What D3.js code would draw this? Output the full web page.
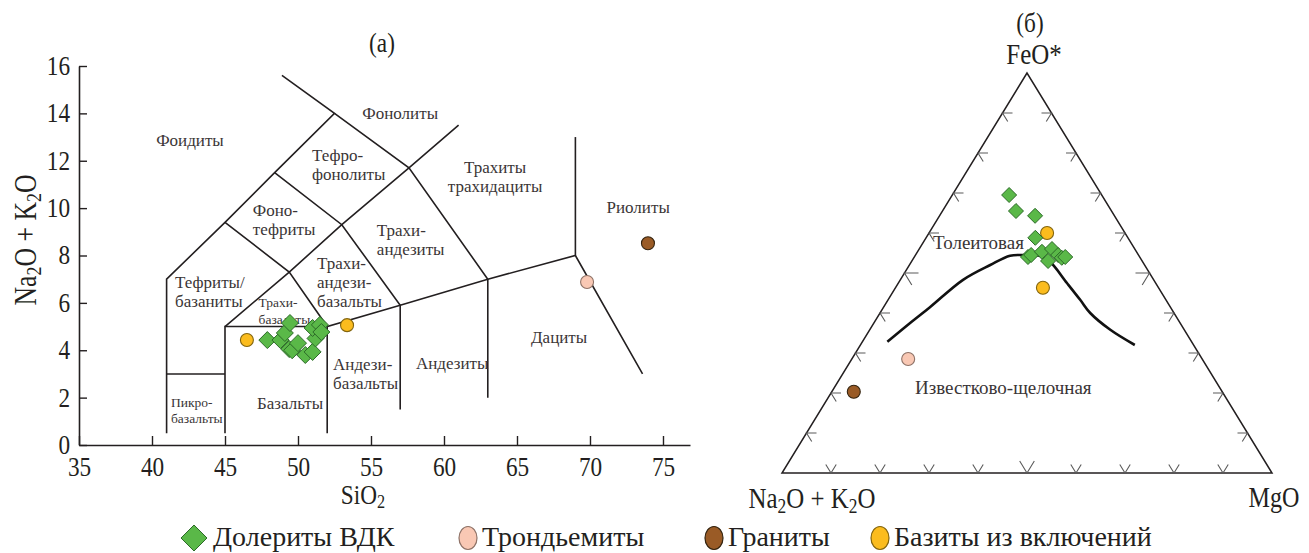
<!DOCTYPE html>
<html><head><meta charset="utf-8">
<script src="https://cdn.jsdelivr.net/npm/d3@7"></script>
<style>body{margin:0;background:#fff}svg{display:block;font-family:"Liberation Serif","Times New Roman",serif}</style>
</head><body><svg id="c" width="1309" height="553"></svg>
<script>
// ---------- DATA ----------
const xTicks = [35, 40, 45, 50, 55, 60, 65, 70, 75];
const yTicks = [0, 2, 4, 6, 8, 10, 12, 14, 16];
// TAS (SiO2, Na2O+K2O)
const doleriteSiO2 = [47.9, 48.8, 49.1, 49.45, 49.4, 49.6, 50.0, 50.5, 51.0, 51.2, 51.0, 51.5, 51.6];
const doleriteAlk  = [4.43, 4.43, 4.73, 5.15, 4.05, 4.0, 4.3, 3.8, 3.93, 4.5, 4.94, 5.07, 4.77];
const trondSiO2 = [69.8],  trondAlk = [6.88];
const graniteSiO2 = [73.97], graniteAlk = [8.52];
const basiteSiO2 = [46.5, 53.36], basiteAlk = [4.43, 5.06];
// AFM (FeO*, Na2O+K2O, MgO), %
const doleriteF = [69.5, 65.5, 64.3, 58.8, 54.0, 54.5, 55.3, 56.0, 53.0, 54.5, 53.8, 54.0];
const doleriteA = [18.9, 19.5, 16.2, 18.9, 22.8, 21.9, 19.3, 16.9, 19.2, 16.4, 16.0, 15.2];
const doleriteM = [11.6, 15.0, 19.5, 22.3, 23.2, 23.6, 25.4, 27.1, 27.8, 29.1, 30.2, 30.8];
const trondF = [28.5], trondA = [60.0], trondM = [11.5];
const graniteF = [20.3], graniteA = [75.2], graniteM = [4.5];
const basiteF = [60.0, 46.3], basiteA = [15.9, 23.6], basiteM = [24.1, 30.1];
// Irvine–Baragar boundary (F, M), %
const curveF = [32.8, 37.5, 41.5, 48.3, 52.0, 54.3, 54.5, 54.3, 52.8, 47.5, 43.3, 40.0, 35.8, 32.0];
const curveM = [5.1, 7.4, 9.5, 12.8, 16.5, 19.4, 22.3, 25.5, 28.3, 34.4, 39.2, 42.9, 49.1, 56.0];
// TAS boundary polylines
const tasLines = [
  [[41,0.5],[41,7],[45,9.4],[48.4,11.5],[52.5,14],[48.9,15.6]],
  [[41,3],[45,3]],
  [[45,0.5],[45,5],[52,5],[52,0.5]],
  [[45,5],[49.4,7.3],[53,9.3],[57.6,11.7],[61,13.5]],
  [[45,9.4],[49.4,7.3],[52,5],[57,5.9],[63,7],[69,8],[73.6,3.0]],
  [[48.4,11.5],[53,9.3],[57,5.9],[57,1.5]],
  [[52.5,14],[57.6,11.7],[63,7],[63,2]],
  [[69,13],[69,8]]
];
const legendNames = ["Долериты ВДК", "Трондьемиты", "Граниты", "Базиты из включений"];

// ---------- STYLE ----------
const C = {
  dol: {fill:"#5ab848", stroke:"#2c6a28"},
  tro: {fill:"#f9c8b4", stroke:"#8e7267"},
  gra: {fill:"#9a5b26", stroke:"#33230f"},
  bas: {fill:"#fbbc1e", stroke:"#83650f"}
};
const svg = d3.select("#c");
const SX = 0.83;

function squeeze(t, sx) {
  if (sx === 1) return;
  const w = t.node().getComputedTextLength();
  t.attr("textLength", (w*sx).toFixed(2)).attr("lengthAdjust", "spacingAndGlyphs");
}

function addText(g, x, y, parts, size, anchor, opts={}) {
  const hasSub = Array.isArray(parts) && parts.some(p => typeof p !== "string");
  const sx = opts.sx ?? 1;
  const t = g.append("text")
    .attr("transform", `translate(${x},${y})` + (opts.rot ? ` rotate(${opts.rot})` : "") + (hasSub && sx !== 1 ? ` scale(${sx},1)` : ""))
    .attr("text-anchor", anchor)
    .attr("dominant-baseline", "central")
    .style("font-size", size + "px")
    .attr("fill", opts.fill || "#231f20");
  if (typeof parts === "string") parts = [parts];
  let reset = false;
  parts.forEach(p => {
    if (typeof p === "string") {
      const ts = t.append("tspan").text(p);
      if (reset) { ts.attr("dy", -size*0.28); reset = false; }
    } else {
      t.append("tspan").attr("dy", size*0.28).style("font-size", (size*0.7)+"px").text(p.sub);
      reset = true;
    }
  });
  if (!hasSub) squeeze(t, sx);
  return t;
}

// ---------- LEFT: TAS ----------
const x = d3.scaleLinear().domain([35, 76.85]).range([79, 690]);
const y = d3.scaleLinear().domain([0, 16]).range([445, 66]);
const gL = svg.append("g");

const xAxis = gL.append("g").attr("transform", `translate(0,${y(0)})`)
  .call(d3.axisBottom(x).tickValues(xTicks).tickSize(-9).tickSizeOuter(0).tickPadding(11));
const yAxis = gL.append("g").attr("transform", `translate(${x(35)},0)`)
  .call(d3.axisLeft(y).tickValues(yTicks).tickSize(-8).tickSizeOuter(0).tickPadding(9));
[xAxis, yAxis].forEach(a => {
  a.select(".domain").attr("stroke", "#231f20").attr("stroke-width", 1.6);
  a.selectAll(".tick line").attr("stroke", "#231f20").attr("stroke-width", 1.4);
  a.selectAll(".tick text").attr("fill", "#231f20")
    .style("font-size", "28px").style("font-family", '"Liberation Serif", serif')
    .each(function(){ squeeze(d3.select(this), SX); });
});
yAxis.selectAll(".tick text").attr("dy", "0.3em");

const line = d3.line().x(d => x(d[0])).y(d => y(d[1]));
gL.append("g").selectAll("path").data(tasLines).join("path")
  .attr("d", line).attr("fill", "none").attr("stroke", "#231f20").attr("stroke-width", 1.6)
  .attr("stroke-linejoin", "miter");

// region labels: text lines, anchor point (data coords), font size, anchor
const regionLabels = [
  {t:["Фоидиты"], p:[42.6,12.87], s:17, a:"middle"},
  {t:["Фонолиты"], p:[57.0,14.0], s:17, a:"middle"},
  {t:["Тефро-","фонолиты"], p:[50.96,12.24], s:17, a:"start"},
  {t:["Трахиты","трахидациты"], p:[63.5,11.73], s:17, a:"middle"},
  {t:["Риолиты"], p:[73.3,10.05], s:17, a:"middle"},
  {t:["Фоно-","тефриты"], p:[46.9,9.92], s:17, a:"start"},
  {t:["Трахи-","андезиты"], p:[55.4,9.08], s:17, a:"start"},
  {t:["Тефриты/","базаниты"], p:[41.58,6.88], s:17, a:"start"},
  {t:["Трахи-","базальты"], p:[47.3,6.02], s:13.5, a:"start", lh:17},
  {t:["Трахи-","андези-","базальты"], p:[51.3,7.7], s:17, a:"start", lh:19},
  {t:["Андези-","базальты"], p:[52.4,3.4], s:17, a:"start"},
  {t:["Андезиты"], p:[58.08,3.46], s:17, a:"start"},
  {t:["Дациты"], p:[65.96,4.56], s:17, a:"start"},
  {t:["Базальты"], p:[47.19,1.77], s:17, a:"start"},
  {t:["Пикро-","базальты"], p:[41.3,1.82], s:13.5, a:"start", lh:16}
];
regionLabels.forEach(L => {
  L.t.forEach((s, i) => addText(gL, x(L.p[0]), y(L.p[1]) + i*(L.lh || 19), s, L.s, L.a, {fill:"#3a3536"}));
});

function diamond(g, cx, cy, r, c) {
  g.append("path").attr("d", `M${cx},${cy-r}L${cx+r},${cy}L${cx},${cy+r}L${cx-r},${cy}Z`)
    .attr("fill", c.fill).attr("stroke", c.stroke).attr("stroke-width", 1);
}
function circle(g, cx, cy, r, c) {
  g.append("circle").attr("cx", cx).attr("cy", cy).attr("r", r)
    .attr("fill", c.fill).attr("stroke", c.stroke).attr("stroke-width", 1.1);
}
const ptsL = gL.append("g");
basiteSiO2.forEach((v,i) => circle(ptsL, x(v), y(basiteAlk[i]), 6.5, C.bas));
trondSiO2.forEach((v,i) => circle(ptsL, x(v), y(trondAlk[i]), 6.5, C.tro));
graniteSiO2.forEach((v,i) => circle(ptsL, x(v), y(graniteAlk[i]), 6.5, C.gra));
doleriteSiO2.forEach((v,i) => diamond(ptsL, x(v), y(doleriteAlk[i]), 8.5, C.dol));

addText(gL, 382, 42, "(а)", 28, "middle", {sx:SX});
addText(gL, 363, 494, ["SiO", {sub:"2"}], 28, "middle", {sx:SX});
addText(gL, 25, 240, ["Na", {sub:"2"}, "O + K", {sub:"2"}, "O"], 31, "middle", {sx:SX, rot:-90});

// ---------- RIGHT: AFM ternary ----------
const tx = d3.scaleLinear().domain([0, 100]).range([782, 1272]);
const ty = d3.scaleLinear().domain([0, 100]).range([473, 73]);
function proj(F, A, M) {
  const s = F + A + M, f = F/s*100, m = M/s*100;
  return [tx(m + f/2), ty(f)];
}
const gR = svg.append("g");
const V = [proj(100,0,0), proj(0,100,0), proj(0,0,100)];
gR.append("path").attr("d", d3.line()(V) + "Z").attr("fill", "none")
  .attr("stroke", "#231f20").attr("stroke-width", 1.5).attr("stroke-linejoin", "miter");

// ticks
const dirL = [ (V[0][0]-V[1][0]), (V[0][1]-V[1][1]) ], nL = Math.hypot(...dirL);
const uL = [dirL[0]/nL, dirL[1]/nL];
const tg = gR.append("g").attr("stroke", "#5a5a5a").attr("stroke-width", 1.1).attr("fill", "none");
for (let i = 1; i < 10; i++) {
  const v = i*10, len = i === 5 ? 14 : 10;
  let p = proj(0, 100-v, v);
  tg.append("path").attr("d", `M${p[0]-uL[0]*len},${p[1]+uL[1]*len}L${p[0]},${p[1]}L${p[0]+uL[0]*len},${p[1]+uL[1]*len}`);
  p = proj(v, 100-v, 0);
  tg.append("path").attr("d", `M${p[0]+len},${p[1]}L${p[0]},${p[1]}L${p[0]+uL[0]*len},${p[1]-uL[1]*len}`);
  p = proj(v, 0, 100-v);
  tg.append("path").attr("d", `M${p[0]-len},${p[1]}L${p[0]},${p[1]}L${p[0]-uL[0]*len},${p[1]-uL[1]*len}`);
}

const curvePts = curveF.map((f,i) => proj(f, 100-f-curveM[i], curveM[i]));
gR.append("path").attr("d", d3.line().curve(d3.curveCatmullRom)(curvePts))
  .attr("fill", "none").attr("stroke", "#111").attr("stroke-width", 2.6);

addText(gR, 933, 242, "Толеитовая", 19, "start", {fill:"#3a3536"});
addText(gR, 915, 387, "Известково-щелочная", 19, "start", {fill:"#3a3536"});

const ptsR = gR.append("g");
trondF.forEach((f,i) => { const p = proj(f, trondA[i], trondM[i]); circle(ptsR, p[0], p[1], 6.5, C.tro); });
graniteF.forEach((f,i) => { const p = proj(f, graniteA[i], graniteM[i]); circle(ptsR, p[0], p[1], 6.5, C.gra); });
basiteF.forEach((f,i) => { const p = proj(f, basiteA[i], basiteM[i]); circle(ptsR, p[0], p[1], 6.5, C.bas); });
doleriteF.forEach((f,i) => { const p = proj(f, doleriteA[i], doleriteM[i]); diamond(ptsR, p[0], p[1], 7.5, C.dol); });

addText(gR, 1030, 22, "(б)", 28, "middle", {sx:SX});
addText(gR, 1034, 53, "FeO*", 30, "middle", {sx:SX});
addText(gR, 812, 497, ["Na", {sub:"2"}, "O + K", {sub:"2"}, "O"], 30, "middle", {sx:SX});
addText(gR, 1274, 497, "MgO", 29, "middle", {sx:SX});

// ---------- LEGEND ----------
const lg = svg.append("g");
const legendStyles = [C.dol, C.tro, C.gra, C.bas];
const legendMarkX = [194, 468, 714, 880];
legendNames.forEach((n, i) => {
  if (i === 0) diamond(lg, legendMarkX[i], 538, 13, legendStyles[i]);
  else lg.append("ellipse").attr("cx", legendMarkX[i]).attr("cy", 538).attr("rx", 9).attr("ry", 11.5)
      .attr("fill", legendStyles[i].fill).attr("stroke", legendStyles[i].stroke).attr("stroke-width", 1.2);
  addText(lg, legendMarkX[i] + (i === 0 ? 19 : 14), 536, n, 28, "start", {sx:1.0});
});
</script></body></html>
